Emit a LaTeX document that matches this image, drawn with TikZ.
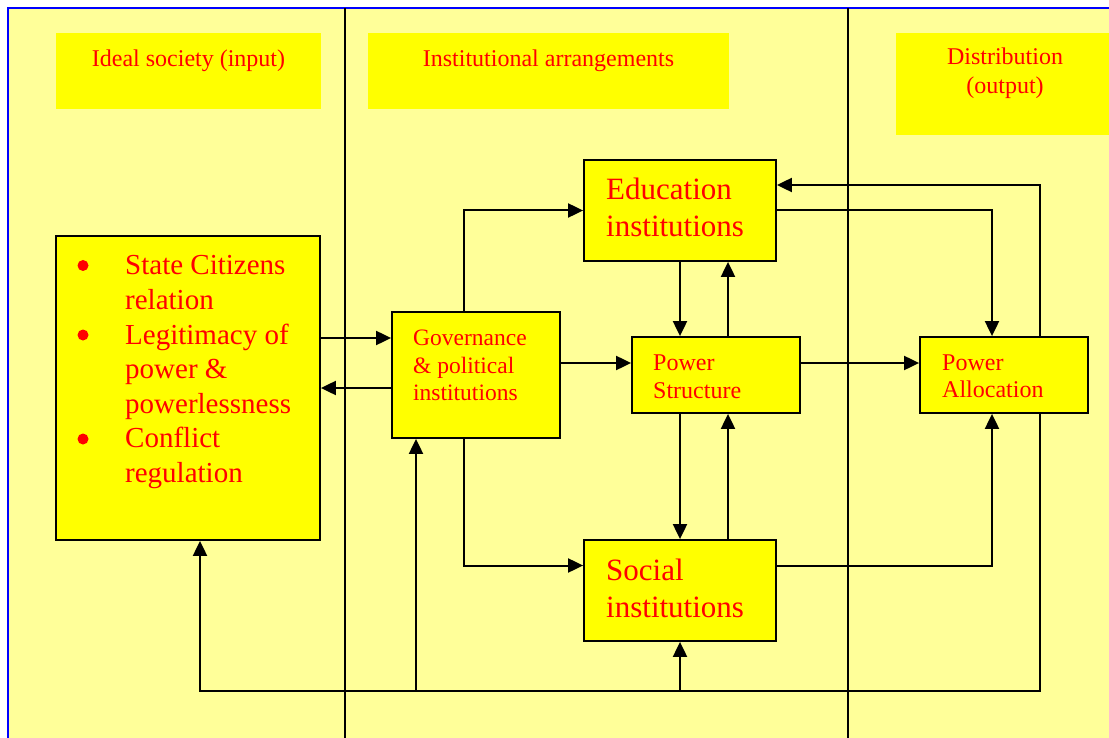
\documentclass[tikz,border=0pt]{standalone}
\usepackage{fontspec}
\setmainfont{Liberation Serif}
\usetikzlibrary{arrows.meta}
\definecolor{bgyel}{HTML}{FFFF99}
\definecolor{boxyel}{HTML}{FFFF00}
\definecolor{txtred}{HTML}{FF0000}
\definecolor{bordblue}{HTML}{0000FF}
\begin{document}
\begin{tikzpicture}[x=1pt,y=-1pt,
  box/.style={draw=black, line width=1.8pt, fill=boxyel, inner sep=0pt},
  hdrbox/.style={fill=boxyel, inner sep=0pt},
  conn/.style={line width=2pt, -{Triangle[length=15pt,width=14pt]}},
  lbl/.style={text=txtred, inner sep=0pt, anchor=base west},
  bul/.style={circle, fill=txtred, inner sep=0pt, minimum size=11pt},
  hd/.style={text=txtred, inner sep=0pt, anchor=base, font=\fontsize{24}{28.8}\selectfont},
  fbig/.style={font=\fontsize{29}{34.5}\selectfont},
  fmed/.style={font=\fontsize{31}{37}\selectfont},
  fsm/.style={font=\fontsize{24}{28}\selectfont},
  fgov/.style={font=\fontsize{23.5}{27.5}\selectfont},
]
\useasboundingbox (0,0) rectangle (1109,738);
% background
\fill[white] (0,0) rectangle (1109,738);
\fill[bgyel] (8,8) rectangle (1109,738);
\draw[bordblue, line width=2pt] (8,738) -- (8,8) -- (1109,8);
% separators
\draw[black, line width=1.5pt] (345,8) -- (345,738);
\draw[black, line width=1.5pt] (848,8) -- (848,738);
% header boxes
\node[hdrbox, minimum width=265pt, minimum height=76pt] (h1) at (188.5,71) {};
\node[hdrbox, minimum width=361pt, minimum height=76pt] (h2) at (548.5,71) {};
\node[hdrbox, minimum width=213pt, minimum height=102pt] (h3) at (1002.5,84) {};
\node[hd] (h1t) at (188.5,67) {Ideal society (input)};
\node[hd] (h2t) at (548.5,67) {Institutional arrangements};
\node[hd] (h3t) at (1005,65) {Distribution};
\node[hd] (h3u) at (1005,94) {(output)};
% boxes
\node[box, minimum width=264pt, minimum height=304pt] (ideal) at (188,388) {};
\node[box, minimum width=168pt, minimum height=126pt] (gov) at (476,375) {};
\node[box, minimum width=192pt, minimum height=101pt] (edu) at (680,210.5) {};
\node[box, minimum width=168pt, minimum height=76pt] (ps) at (716,375) {};
\node[box, minimum width=192pt, minimum height=101pt] (soc) at (680,590.5) {};
\node[box, minimum width=168pt, minimum height=76pt] (alloc) at (1004,375) {};
% ideal text
\node[bul] (b1) at (83,265.5) {};
\node[bul] (b2) at (83,335) {};
\node[bul] (b3) at (83,439) {};
\node[lbl, fbig] (i1) at (125,275) {State Citizens};
\node[lbl, fbig] (i2) at (125,309.5) {relation};
\node[lbl, fbig] (i3) at (125,344) {Legitimacy of};
\node[lbl, fbig] (i4) at (125,378.5) {power \&};
\node[lbl, fbig] (i5) at (125,413) {powerlessness};
\node[lbl, fbig] (i6) at (125,447.5) {Conflict};
\node[lbl, fbig] (i7) at (125,482) {regulation};
% governance text
\node[lbl, fgov] (g1) at (413,345) {Governance};
\node[lbl, fgov] (g2) at (413,373) {\& political};
\node[lbl, fgov] (g3) at (413,400) {institutions};
% education
\node[lbl, fmed] (e1) at (606,200) {Education};
\node[lbl, fmed] (e2) at (606,237) {institutions};
% social
\node[lbl, fmed] (s1) at (606,580) {Social};
\node[lbl, fmed] (s2) at (606,617) {institutions};
% power structure
\node[lbl, fsm] (p1) at (653,370) {Power};
\node[lbl, fsm] (p2) at (653,398) {Structure};
% power allocation
\node[lbl, fsm] (a1) at (942,370) {Power};
\node[lbl, fsm] (a2) at (942,397) {Allocation};
% helper coordinates
\coordinate (iE) at ([yshift=50pt]ideal.east);
\coordinate (gN) at ([xshift=-12pt]gov.north);
\coordinate (gS2) at ([xshift=-12pt]gov.south);
\coordinate (gS) at ([xshift=-60pt]gov.south);
\coordinate (sW) at ([yshift=25pt]soc.west);
\coordinate (sE) at ([yshift=25pt]soc.east);
\coordinate (pW) at ([yshift=12pt]ps.west);
\coordinate (pE) at ([yshift=12pt]ps.east);
\coordinate (pN) at ([xshift=12pt]ps.north);
\coordinate (pS) at ([xshift=12pt]ps.south);
\coordinate (eE2) at ([yshift=25.5pt]edu.east);
\coordinate (aN) at ([xshift=36pt]alloc.north);
\coordinate (aN2) at ([xshift=-12pt]alloc.north);
\coordinate (aS) at ([xshift=36pt]alloc.south);
\coordinate (aS2) at ([xshift=-12pt]alloc.south);
\coordinate (iS) at ([xshift=12pt]ideal.south);
\coordinate (fb) at (0,691);
% connectors
\draw[conn] (iE) -- (iE -| gov.west);
\draw[conn] (gov.west |- ideal.east) -- (ideal.east);
\draw[conn] (gN) |- (edu.west);
\draw[conn] (gS2) |- (sW);
\draw[conn] (gov.east |- pW) -- (pW);
\draw[conn] (pE) -- (pE -| alloc.west);
\draw[conn] (edu.south) -- (edu.south |- ps.north);
\draw[conn] (pN) -- (pN |- edu.south);
\draw[conn] (soc.north |- ps.south) -- (soc.north);
\draw[conn] (pS |- soc.north) -- (pS);
\draw[conn] (edu.east) -| (aN2);
\draw[conn] (aN) |- (eE2);
\draw[conn] (sE) -| (aS2);
\draw[conn] (aS) |- (iS |- fb) -- (iS);
\draw[conn] (gS |- fb) -- (gS);
\draw[conn] (soc.south |- fb) -- (soc.south);
\end{tikzpicture}
\end{document}
